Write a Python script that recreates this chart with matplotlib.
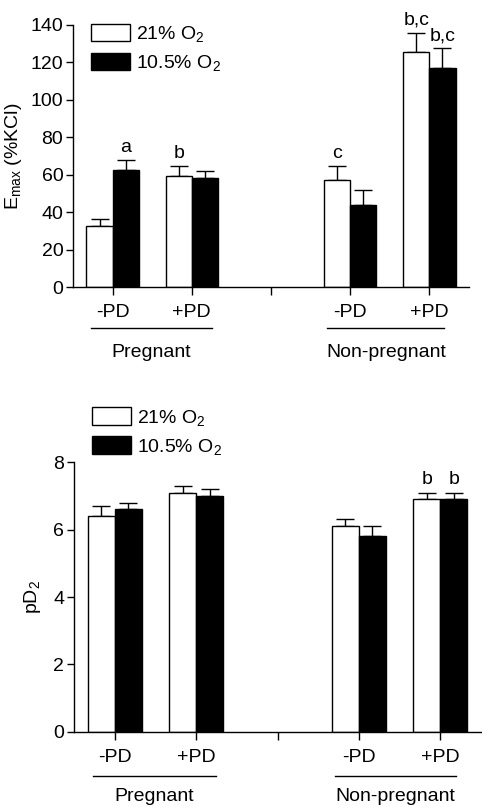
import matplotlib
matplotlib.use('Agg')
import matplotlib.pyplot as plt
import matplotlib.transforms as mtransforms
from matplotlib.patches import Patch
import numpy as np

plt.rcParams['font.family'] = ['Liberation Sans', 'DejaVu Sans']
plt.rcParams['mathtext.default'] = 'regular'
plt.rcParams['font.size'] = 14

# data
conditions = ['-PD', '+PD', '-PD', '+PD']
groups = ['Pregnant', 'Non-pregnant']
series = ['21% O$_2$', '10.5% O$_2$']

emax_21 = [32.6, 59.5, 57.2, 125.4]
emax_21_sem = [3.7, 5.0, 7.3, 10.3]
emax_105 = [62.7, 58.1, 43.7, 117.2]
emax_105_sem = [5.2, 3.9, 8.3, 10.3]
emax_marks_21 = ['', 'b', 'c', 'b,c']
emax_marks_105 = ['a', '', '', 'b,c']

pd2_21 = [6.41, 7.09, 6.10, 6.91]
pd2_21_sem = [0.29, 0.21, 0.21, 0.19]
pd2_105 = [6.61, 7.01, 5.81, 6.91]
pd2_105_sem = [0.19, 0.19, 0.30, 0.19]
pd2_marks_21 = ['', '', '', 'b']
pd2_marks_105 = ['', '', '', 'b']

pos = np.array([1, 2, 4, 5])
w = 0.33

fig = plt.figure(figsize=(4.82, 8.09), dpi=100)
ax1 = fig.add_axes([0.1515, 0.6452, 0.8215, 0.3239])
ax2 = fig.add_axes([0.1535, 0.0955, 0.8445, 0.3330])


def draw_panel(ax, v21, s21, v105, s105, m21, m105, ymax, ystep, ylabel,
               line_dy, text_dy, leg_y):
    ax.bar(pos - w / 2, v21, w, color='white', edgecolor='black', linewidth=1, zorder=2)
    ax.bar(pos + w / 2, v105, w, color='black', edgecolor='black', linewidth=1, zorder=2)
    # upper error bars only
    for x, v, s in [(pos - w / 2, v21, s21), (pos + w / 2, v105, s105)]:
        ax.errorbar(x, v, yerr=[np.zeros(len(s)), s], fmt='none', ecolor='black',
                    elinewidth=1, capsize=6.5, capthick=1, zorder=1)
    for x, v, s, m in [(pos - w / 2, v21, s21, m21), (pos + w / 2, v105, s105, m105)]:
        for xi, vi, si, mi in zip(x, v, s, m):
            if mi:
                ax.annotate(mi, (xi, vi + si), xytext=(0, 3), textcoords='offset points',
                            ha='center', va='bottom')

    ax.set_xlim(0.5, 5.5)
    ax.set_ylim(0, ymax)
    ax.set_yticks(np.arange(0, ymax + ystep / 2, ystep))
    ax.set_xticks([1, 2, 3, 4, 5])
    ax.set_xticklabels(['-PD', '+PD', '', '-PD', '+PD'])
    ax.spines['top'].set_visible(False)
    ax.spines['right'].set_visible(False)
    ax.spines['left'].set_linewidth(1)
    ax.spines['bottom'].set_linewidth(1)
    ax.tick_params(axis='y', length=5, width=1, pad=2)
    ax.tick_params(axis='x', length=5.5, width=1, pad=7)
    ax.set_ylabel(ylabel)

    # group lines + labels under the tick labels
    off = mtransforms.ScaledTranslation(0, -line_dy / 100, fig.dpi_scale_trans)
    tr = ax.get_xaxis_transform() + off
    for (x0, x1), g in zip([(0.73, 2.25), (3.71, 5.19)], groups):
        ax.plot([x0, x1], [0, 0], color='black', lw=1, transform=tr, clip_on=False)
        ax.annotate(g, ((x0 + x1) / 2, 0), xycoords=('data', 'axes fraction'),
                    xytext=(0, -text_dy * 0.72), textcoords='offset points',
                    ha='center', va='center')

    handles = [Patch(facecolor='white', edgecolor='black', linewidth=1),
               Patch(facecolor='black', edgecolor='black', linewidth=1)]
    ax.legend(handles, series, loc='upper left', bbox_to_anchor=(0.045, leg_y),
              frameon=False, borderpad=0, handlelength=2.0, handleheight=1.0,
              handletextpad=0.3, labelspacing=0.45, borderaxespad=0)


draw_panel(ax1, emax_21, emax_21_sem, emax_105, emax_105_sem, emax_marks_21, emax_marks_105,
           140, 20, 'E$_{max}$ (%KCl)', 41, 65, 1.004)
draw_panel(ax2, pd2_21, pd2_21_sem, pd2_105, pd2_105_sem, pd2_marks_21, pd2_marks_105,
           8, 2, 'pD$_2$', 44, 65, 1.204)

ax1.yaxis.set_label_coords(-0.125, 0.5)
ax2.yaxis.set_label_coords(-0.075, 0.5)

fig.savefig('out.png', dpi=100)
